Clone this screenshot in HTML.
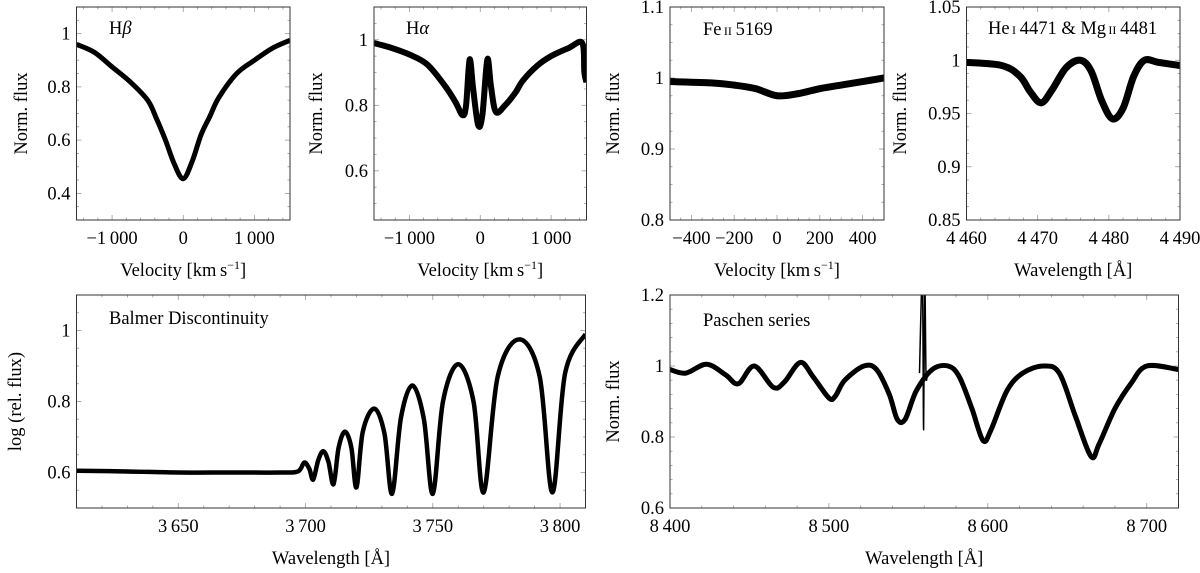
<!DOCTYPE html>
<html><head><meta charset="utf-8">
<style>
body{margin:0;background:#fff;}
svg{display:block;font-family:"Liberation Serif",serif;}
</style></head>
<body>
<svg id="fig" width="1200" height="573" viewBox="0 0 1200 573"></svg>
<script>
// ---- data arrays ----
const hbVel = [-1500,-1250,-1000,-750,-500,-375,-250,-125,0,125,250,375,500,750,1000,1250,1500];
const hbFlux = [0.96,0.93,0.875,0.82,0.75,0.68,0.60,0.51,0.455,0.52,0.62,0.69,0.76,0.85,0.90,0.945,0.975];
const haVel = [-1500,-1250,-1000,-750,-500,-350,-250,-200,-150,-100,-30,30,100,150,220,350,500,600,800,1000,1250,1440,1470,1500];
const haFlux = [0.99,0.975,0.955,0.925,0.86,0.81,0.77,0.80,0.94,0.85,0.74,0.77,0.94,0.86,0.78,0.80,0.84,0.875,0.92,0.95,0.975,0.99,0.90,0.87];
const feVel = [-500,-300,-200,-100,0,100,200,300,400,500];
const feFlux = [0.995,0.993,0.99,0.985,0.975,0.978,0.985,0.99,0.995,1.0];
const heWave = [4460,4465,4467.5,4469,4470.5,4472,4474,4476,4477.5,4479,4480.5,4482,4483.5,4485,4487,4490];
const heFlux = [0.998,0.995,0.985,0.97,0.96,0.972,0.993,1.0,0.99,0.962,0.945,0.955,0.985,1.0,0.998,0.995];
const bdWave = [3610,3630,3650,3670,3690,3697,3699.5,3701.5,3703,3705,3707,3709,3711,3713,3715.5,3718,3720,3722.5,3727,3731,3734,3737.5,3742,3746.5,3750,3754,3760,3766,3770,3775.5,3784,3792,3797,3802,3810];
const bdFlux = [0.605,0.603,0.6,0.6,0.6,0.603,0.628,0.61,0.58,0.635,0.66,0.63,0.567,0.67,0.715,0.67,0.558,0.715,0.78,0.71,0.54,0.755,0.845,0.75,0.54,0.80,0.905,0.80,0.544,0.87,0.975,0.87,0.544,0.88,0.99];
const paWave = [8400,8410,8423,8435,8443,8453,8465,8472,8482,8490,8500,8504,8510,8522,8530,8538,8543,8548,8555,8565,8575,8582,8590,8597,8602,8612,8622,8635,8645,8655,8665,8670,8680,8690,8700,8720];
const paFlux = [0.99,0.98,1.005,0.975,0.95,1.0,0.94,0.955,1.01,0.97,0.91,0.915,0.96,1.0,0.99,0.92,0.85,0.85,0.93,0.99,1.0,0.97,0.88,0.79,0.82,0.93,0.98,1.0,0.98,0.86,0.745,0.78,0.88,0.95,1.0,0.99];
const spikeWave = [8557,8558.8,8559.6,8560.3,8561.1,8562];
const spikeFlux = [0.98,1.25,0.82,1.25,0.98,0.98];
// tick values
const t1x=[-1000,0,1000], t1y=[0.4,0.6,0.8,1];
const t2x=[-1000,0,1000], t2y=[0.6,0.8,1];
const t3x=[-400,-200,0,200,400], t3y=[0.8,0.9,1,1.1];
const t4x=[4460,4470,4480,4490], t4y=[0.85,0.9,0.95,1,1.05];
const t5x=[3650,3700,3750,3800], t5y=[0.6,0.8,1];
const t6x=[8400,8500,8600,8700], t6y=[0.6,0.8,1,1.2];

const NS="http://www.w3.org/2000/svg";
const svg=document.getElementById('fig');
const FS=18.5;
function el(tag,attrs,parent){const e=document.createElementNS(NS,tag);for(const k in attrs)e.setAttribute(k,attrs[k]);(parent||svg).appendChild(e);return e;}
function fmt(v){let s;const a=Math.abs(v);
 if(Number.isInteger(v)){s=String(a);if(a>=1000)s=s.slice(0,s.length-3)+'\u2009'+s.slice(-3);}
 else s=String(a);
 return (v<0?'\u2212':'')+s;}
function smooth(pts){let d='M'+pts[0][0]+','+pts[0][1];
 for(let i=0;i<pts.length-1;i++){const p0=pts[Math.max(0,i-1)],p1=pts[i],p2=pts[i+1],p3=pts[Math.min(pts.length-1,i+2)];
  const c1=[p1[0]+(p2[0]-p0[0])/6,p1[1]+(p2[1]-p0[1])/6],c2=[p2[0]-(p3[0]-p1[0])/6,p2[1]-(p3[1]-p1[1])/6];
  d+=' C'+c1[0].toFixed(2)+','+c1[1].toFixed(2)+' '+c2[0].toFixed(2)+','+c2[1].toFixed(2)+' '+p2[0].toFixed(2)+','+p2[1].toFixed(2);}
 return d;}
let clipN=0;
function panel(cfg){
 const g=el('g',{});
 
 
 const {L,R,T,B,x0,x1,y0,y1}=cfg;
 const sx=v=>L+(v-x0)/(x1-x0)*(R-L), sy=v=>B-(v-y0)/(y1-y0)*(B-T);
 const id='clip'+(clipN++);
 const cp=el('clipPath',{id:id},g);el('rect',{x:L,y:T,width:R-L,height:B-T},cp);
 const tk=el('g',{stroke:'#999','stroke-width':0.8},g);
 
 
 const mx=cfg.xt[1]-cfg.xt[0], my=cfg.yt[1]-cfg.yt[0];
 for(let v=cfg.xt[0]-mx*3;v<=x1+1e-9;v+=mx/cfg.mxn){if(v<x0-1e-9)continue;const X=sx(v);
  const major=cfg.xt.some(t=>Math.abs(t-v)<1e-6);const len=major?5:2.5;
  el('line',{x1:X,y1:B,x2:X,y2:B-len},tk);el('line',{x1:X,y1:T,x2:X,y2:T+len},tk);}
 for(let v=cfg.yt[0]-my*3;v<=y1+1e-9;v+=my/cfg.myn){if(v<y0-1e-9)continue;const Y=sy(v);
  const major=cfg.yt.some(t=>Math.abs(t-v)<1e-6);const len=major?5:2.5;
  el('line',{x1:L,y1:Y,x2:L+len,y2:Y},tk);el('line',{x1:R,y1:Y,x2:R-len,y2:Y},tk);}
 cfg.series.forEach(s=>{
  const p=el('path',{d:smooth(s.x.map((v,i)=>[sx(v),sy(s.y[i])])),fill:'none',stroke:'#000','stroke-width':s.w,'stroke-linejoin':'round','clip-path':'url(#'+id+')'},g);
  
  
 });
 const f=el('rect',{x:L,y:T,width:R-L,height:B-T,fill:'none',stroke:'#333','stroke-width':1},g);
 
 
 cfg.xt.forEach(v=>{const t=el('text',{x:sx(v),y:B+24,'text-anchor':'middle','font-size':FS},g);t.textContent=fmt(v);
  
  });
 cfg.yt.forEach(v=>{const t=el('text',{x:L-6,y:sy(v)+6,'text-anchor':'end','font-size':FS},g);t.textContent=fmt(v);
  
  });
 const xl=el('text',{x:(L+R)/2,y:cfg.xly,'text-anchor':'middle','font-size':FS},g);xl.innerHTML=cfg.xl;
 
 
 const yl=el('text',{x:0,y:0,'text-anchor':'middle','font-size':FS,transform:'translate('+cfg.ylx+','+(T+B)/2+') rotate(-90)'},g);yl.textContent=cfg.yl;
 
 
 const ti=el('text',{x:cfg.tx,y:cfg.ty,'font-size':FS},g);ti.innerHTML=cfg.title;
 
 
}
const VEL='Velocity [km\u2009s<tspan dy="-7" font-size="12">\u22121</tspan><tspan dy="7">]</tspan>';
const WL='Wavelength [Å]';
panel({name:'hbeta-panel',L:76.5,R:290,T:7,B:220,x0:-1500,x1:1500,y0:0.3,y1:1.1,xt:t1x,yt:t1y,mxn:5,myn:4,
 series:[{name:'hbeta-profile',x:hbVel,y:hbFlux,w:5}],xl:VEL,xly:276,yl:'Norm. flux',ylx:27,title:'H<tspan font-style="italic">β</tspan>',tx:109,ty:34});
panel({name:'halpha-panel',L:374,R:586.5,T:7,B:220,x0:-1500,x1:1500,y0:0.45,y1:1.1,xt:t2x,yt:t2y,mxn:5,myn:4,
 series:[{name:'halpha-profile',x:haVel,y:haFlux,w:6}],xl:VEL,xly:276,yl:'Norm. flux',ylx:322,title:'H<tspan font-style="italic">α</tspan>',tx:406,ty:34});
panel({name:'fe-ii-panel',L:670,R:884,T:7,B:220,x0:-500,x1:500,y0:0.8,y1:1.1,xt:t3x,yt:t3y,mxn:4,myn:4,
 series:[{name:'fe-ii-profile',x:feVel,y:feFlux,w:7}],xl:VEL,xly:276,yl:'Norm. flux',ylx:619,title:'Fe<tspan font-size="12">\u2009II</tspan>\u20095169',tx:703,ty:35});
panel({name:'he-mg-panel',L:966.5,R:1180,T:7,B:220,x0:4460,x1:4490,y0:0.85,y1:1.05,xt:t4x,yt:t4y,mxn:5,myn:4,
 series:[{name:'he-mg-profile',x:heWave,y:heFlux,w:7}],xl:WL,xly:276,yl:'Norm. flux',ylx:906,title:'He<tspan font-size="12">\u2009I</tspan>\u20094471 &amp; Mg<tspan font-size="12">\u2009II</tspan>\u20094481',tx:988,ty:34});
panel({name:'balmer-panel',L:76.5,R:585.5,T:295,B:508,x0:3610,x1:3810,y0:0.5,y1:1.1,xt:t5x,yt:t5y,mxn:5,myn:4,
 series:[{name:'balmer-profile',x:bdWave,y:bdFlux,w:4.5}],xl:WL,xly:564,yl:'log (rel. flux)',ylx:21,title:'Balmer Discontinuity',tx:109,ty:324});
panel({name:'paschen-panel',L:670,R:1178.5,T:295,B:508,x0:8400,x1:8720,y0:0.6,y1:1.2,xt:t6x,yt:t6y,mxn:5,myn:5,
 series:[{name:'paschen-profile',x:paWave,y:paFlux,w:5},{name:'emission-spike',x:spikeWave,y:spikeFlux,w:1.5}],xl:WL,xly:564,yl:'Norm. flux',ylx:619,title:'Paschen series',tx:703,ty:326});
</script>
</body></html>
